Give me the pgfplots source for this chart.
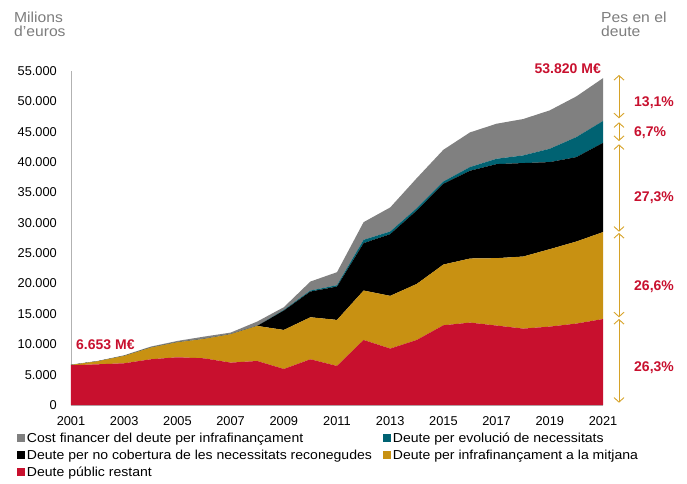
\documentclass[border=0pt]{standalone}
\usepackage{pgfplots}
\pgfplotsset{compat=1.18}
\usepackage{pgfplotstable}
\usepackage{fontspec}
\setmainfont{Liberation Sans}
\newfontfamily\widefont[FakeStretch=1.08]{Liberation Sans}
\usetikzlibrary{arrows.meta}
\definecolor{cred}{RGB}{200,16,46}
\definecolor{cgold}{RGB}{200,145,18}
\definecolor{cteal}{RGB}{0,98,114}
\definecolor{cgray}{RGB}{128,128,128}
\definecolor{carrow}{RGB}{214,162,40}
\definecolor{ctitle}{RGB}{125,125,125}

\pgfplotstableread{
year red gold black teal gray
2001 6550 50 0 0 53
2002 6700 500 0 0 50
2003 6870 1210 0 0 110
2004 7530 1920 0 0 170
2005 7860 2470 0 0 220
2006 7690 3190 0 0 380
2007 6980 4670 0 0 270
2008 7250 5770 0 0 720
2009 5930 6430 3190 100 450
2010 7530 6920 4230 170 1480
2011 6430 7580 5490 230 2140
2012 10710 8140 7800 550 2910
2013 9290 8680 10160 440 3960
2014 10710 9230 12090 390 4940
2015 13130 10000 13300 380 5220
2016 13570 10550 14450 610 5710
2017 13080 11100 15490 880 5770
2018 12580 11870 15390 1260 5990
2019 12910 12750 14340 2200 6320
2020 13410 13510 13900 3300 6700
2021 14155 14316 14693 3606 7050
}\debt

\begin{document}
\begin{tikzpicture}
\useasboundingbox (-71pt,-78pt) rectangle (616pt,405pt);
\begin{axis}[
  scale only axis,
  width=532pt, height=334pt,
  xmin=2001, xmax=2021, ymin=0, ymax=55000,
  stack plots=y,
  axis lines*=left,
  axis line style={draw=black!30, line width=0.8pt, -},
  major tick length=0pt,
  tick style={draw=none},
  xtick={2001,2003,...,2021},
  ytick={0,5000,...,55000},
  scaled y ticks=false,
  tick label style={font=\fontsize{12.8}{14}\selectfont},
  xticklabel style={/pgf/number format/1000 sep={}, /pgf/number format/assume math mode=true, inner sep=0pt, anchor=north, yshift=-11pt},
  yticklabel style={/pgf/number format/1000 sep={.}, /pgf/number format/assume math mode=true, inner sep=0pt, anchor=east, xshift=-14pt},
  legend columns=2,
  legend cell align=left,
  legend style={draw=none, fill=none, inner sep=0pt, outer sep=0pt,
    at={(0,0)}, anchor=north west, xshift=-54pt, yshift=-26pt,
    font=\widefont\fontsize{13}{14}\selectfont,
    row sep=1.8pt,
    /tikz/every even column/.append style={column sep=9pt}},
  legend image code/.code={\fill[#1] (0pt,-3.6pt) rectangle (8pt,4.4pt);},
]
\addlegendimage{fill=cgray, draw=none}
\addlegendentry{Cost financer del deute per infrafinançament}
\addlegendimage{fill=cteal, draw=none}
\addlegendentry{Deute per evolució de necessitats}
\addlegendimage{fill=black, draw=none}
\addlegendentry{Deute per no cobertura de les necessitats reconegudes}
\addlegendimage{fill=cgold, draw=none}
\addlegendentry{Deute per infrafinançament a la mitjana}
\addlegendimage{fill=cred, draw=none}
\addlegendentry{Deute públic restant}

\addplot[fill=cred, draw=none, forget plot] table[x=year, y=red] {\debt} \closedcycle;
\addplot[fill=cgold, draw=none, forget plot] table[x=year, y=gold] {\debt} \closedcycle;
\addplot[fill=black, draw=none, forget plot] table[x=year, y=black] {\debt} \closedcycle;
\addplot[fill=cteal, draw=none, forget plot] table[x=year, y=teal] {\debt} \closedcycle;
\addplot[fill=cgray, draw=none, forget plot] table[x=year, y=gray] {\debt} \closedcycle;
\end{axis}

% titles
\begin{scope}[every node/.style={anchor=base west, inner sep=0pt, text=ctitle, font=\widefont\fontsize{14.5}{16}\selectfont}]
\node at (-57pt,382pt) {Milions};
\node at (-57pt,368pt) {d’euros};
\node at (530pt,382pt) {Pes en el};
\node at (530pt,368pt) {deute};
\end{scope}

% value labels
\node[anchor=base west, inner sep=0pt, text=cred, font=\bfseries\fontsize{14}{15}\selectfont] at (5pt,56pt) {6.653 M€};
\node[anchor=base east, inner sep=0pt, text=cred, font=\bfseries\fontsize{14}{15}\selectfont] at (530pt,332pt) {53.820 M€};

% share arrows
\begin{scope}[carrow, line width=0.9pt, {Straight Barb[length=4.5pt,width=10pt]}-{Straight Barb[length=4.5pt,width=10pt]}]
\draw (548pt,330pt) -- (548pt,286.7pt);
\draw (548pt,282.7pt) -- (548pt,264pt);
\draw (548pt,260.7pt) -- (548pt,173.3pt);
\draw (548pt,172pt) -- (548pt,87.7pt);
\draw (548pt,86pt) -- (548pt,2.3pt);
\end{scope}
\begin{scope}[every node/.style={anchor=base west, inner sep=0pt, text=cred, font=\bfseries\fontsize{14}{15}\selectfont}]
\node at (563pt,298.3pt) {13,1\%};
\node at (563pt,268.3pt) {6,7\%};
\node at (563pt,203.3pt) {27,3\%};
\node at (563pt,115pt) {26,6\%};
\node at (563pt,33.3pt) {26,3\%};
\end{scope}
\end{tikzpicture}
\end{document}
